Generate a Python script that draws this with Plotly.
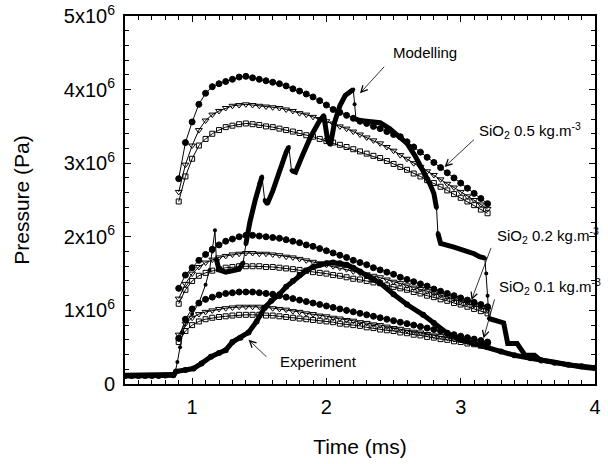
import plotly.graph_objects as go

# ---------------- data (pressure in units of 1e6 Pa, time in ms) ----------------
t_sim = [0.90, 0.95, 1.00, 1.05, 1.10, 1.15, 1.20, 1.25, 1.30, 1.35, 1.40, 1.45,
         1.50, 1.55, 1.60, 1.65, 1.70, 1.75, 1.80, 1.85, 1.90, 1.95, 2.00, 2.05,
         2.10, 2.15, 2.20, 2.25, 2.30, 2.35, 2.40, 2.45, 2.50, 2.55, 2.60, 2.65,
         2.70, 2.75, 2.80, 2.85, 2.90, 2.95, 3.00, 3.05, 3.10, 3.15, 3.20]

sio2_05_circ = [2.79, 3.28, 3.56, 3.80, 3.95, 4.04, 4.08, 4.11, 4.14, 4.17, 4.18, 4.16,
                4.14, 4.12, 4.10, 4.08, 4.05, 4.01, 3.98, 3.94, 3.90, 3.85, 3.79, 3.73,
                3.69, 3.65, 3.61, 3.57, 3.54, 3.50, 3.47, 3.43, 3.39, 3.36, 3.29, 3.22,
                3.15, 3.08, 3.01, 2.94, 2.87, 2.80, 2.73, 2.66, 2.59, 2.52, 2.45]
sio2_05_tri = [2.61, 2.98, 3.24, 3.45, 3.58, 3.66, 3.71, 3.75, 3.78, 3.79, 3.80, 3.79,
               3.78, 3.77, 3.76, 3.75, 3.73, 3.71, 3.68, 3.66, 3.63, 3.60, 3.57, 3.54,
               3.50, 3.47, 3.43, 3.39, 3.35, 3.31, 3.27, 3.22, 3.17, 3.11, 3.06, 3.00,
               2.95, 2.89, 2.84, 2.78, 2.72, 2.67, 2.61, 2.55, 2.50, 2.44, 2.38]
sio2_05_sq = [2.48, 2.82, 3.06, 3.24, 3.33, 3.40, 3.45, 3.49, 3.51, 3.53, 3.54, 3.53,
              3.52, 3.50, 3.49, 3.47, 3.45, 3.43, 3.41, 3.38, 3.36, 3.33, 3.30, 3.28,
              3.25, 3.22, 3.19, 3.16, 3.13, 3.10, 3.07, 3.03, 2.99, 2.95, 2.91, 2.86,
              2.82, 2.77, 2.73, 2.68, 2.63, 2.58, 2.53, 2.48, 2.43, 2.37, 2.32]

sio2_02_circ = [1.30, 1.48, 1.58, 1.68, 1.76, 1.83, 1.89, 1.94, 1.97, 2.00, 2.02, 2.02,
                2.01, 2.00, 1.99, 1.98, 1.96, 1.94, 1.92, 1.89, 1.87, 1.84, 1.81, 1.78,
                1.75, 1.72, 1.68, 1.65, 1.62, 1.58, 1.55, 1.52, 1.49, 1.45, 1.42, 1.39,
                1.36, 1.33, 1.29, 1.26, 1.23, 1.20, 1.17, 1.14, 1.11, 1.08, 1.05]
sio2_02_tri = [1.16, 1.36, 1.50, 1.59, 1.65, 1.69, 1.72, 1.74, 1.76, 1.77, 1.78, 1.78,
               1.77, 1.77, 1.76, 1.75, 1.73, 1.72, 1.70, 1.68, 1.66, 1.64, 1.62, 1.60,
               1.58, 1.56, 1.53, 1.51, 1.49, 1.47, 1.45, 1.42, 1.39, 1.37, 1.34, 1.31,
               1.29, 1.26, 1.23, 1.21, 1.18, 1.15, 1.12, 1.10, 1.07, 1.04, 1.01]
sio2_02_sq = [1.09, 1.28, 1.40, 1.47, 1.51, 1.54, 1.56, 1.58, 1.59, 1.60, 1.60, 1.60,
              1.60, 1.59, 1.59, 1.58, 1.57, 1.56, 1.55, 1.54, 1.52, 1.51, 1.50, 1.48,
              1.47, 1.45, 1.43, 1.42, 1.40, 1.38, 1.37, 1.34, 1.32, 1.30, 1.28, 1.25,
              1.23, 1.20, 1.18, 1.15, 1.13, 1.10, 1.08, 1.05, 1.02, 0.99, 0.96]

sio2_01_circ = [0.62, 0.88, 1.02, 1.10, 1.15, 1.18, 1.21, 1.23, 1.24, 1.25, 1.25, 1.25,
                1.24, 1.23, 1.22, 1.20, 1.18, 1.16, 1.14, 1.12, 1.10, 1.08, 1.06, 1.04,
                1.02, 1.00, 0.98, 0.96, 0.94, 0.92, 0.90, 0.88, 0.86, 0.84, 0.82, 0.80,
                0.78, 0.76, 0.74, 0.72, 0.69, 0.67, 0.65, 0.63, 0.61, 0.59, 0.57]
sio2_01_tri = [0.67, 0.82, 0.90, 0.95, 0.98, 1.00, 1.02, 1.03, 1.04, 1.05, 1.05, 1.05,
               1.05, 1.04, 1.03, 1.02, 1.01, 0.99, 0.98, 0.96, 0.95, 0.93, 0.92, 0.90,
               0.89, 0.87, 0.86, 0.84, 0.83, 0.81, 0.80, 0.78, 0.76, 0.75, 0.73, 0.71,
               0.70, 0.68, 0.66, 0.65, 0.63, 0.61, 0.60, 0.58, 0.57, 0.55, 0.54]
sio2_01_sq = [0.57, 0.72, 0.80, 0.85, 0.88, 0.90, 0.91, 0.92, 0.93, 0.94, 0.94, 0.94,
              0.94, 0.93, 0.93, 0.92, 0.91, 0.90, 0.89, 0.88, 0.87, 0.86, 0.85, 0.84,
              0.82, 0.81, 0.80, 0.79, 0.77, 0.76, 0.74, 0.73, 0.72, 0.70, 0.69, 0.67,
              0.66, 0.64, 0.63, 0.61, 0.60, 0.58, 0.57, 0.55, 0.54, 0.52, 0.51]

t_exp = [0.50, 0.55, 0.60, 0.65, 0.70, 0.75, 0.80, 0.86, 0.88, 0.95, 1.01, 1.07, 1.14,
         1.20, 1.25, 1.30, 1.36, 1.42, 1.48, 1.54, 1.59, 1.65, 1.70, 1.75, 1.80, 1.85,
         1.90, 1.95, 2.00, 2.05, 2.10, 2.15, 2.20, 2.25, 2.30, 2.35, 2.40, 2.50, 2.60,
         2.72, 2.80, 2.90, 3.00, 3.10, 3.19, 3.30, 3.40, 3.52, 3.60, 3.70, 3.80, 3.90, 4.00]
p_exp = [0.11, 0.11, 0.11, 0.11, 0.11, 0.11, 0.115, 0.12, 0.17, 0.19, 0.21, 0.28, 0.37,
         0.42, 0.46, 0.57, 0.63, 0.70, 0.85, 1.04, 1.13, 1.22, 1.32, 1.40, 1.48, 1.54,
         1.59, 1.62, 1.64, 1.65, 1.64, 1.62, 1.58, 1.53, 1.47, 1.42, 1.37, 1.22, 1.08,
         0.94, 0.83, 0.69, 0.60, 0.55, 0.51, 0.44, 0.39, 0.35, 0.32, 0.29, 0.26, 0.24, 0.22]

t_mod = [0.50, 0.60, 0.70, 0.80, 0.87, 0.89, 0.91, 0.93, 0.96, 1.00, 1.05, 1.10, 1.13,
         1.15, 1.17, 1.18, 1.20, 1.25, 1.30, 1.35, 1.38, 1.40, 1.43, 1.47, 1.50, 1.52,
         1.54, 1.56, 1.60, 1.65, 1.70, 1.72, 1.74, 1.77, 1.82, 1.88, 1.94, 1.98, 2.01,
         2.03, 2.06, 2.10, 2.14, 2.18, 2.20, 2.21, 2.22, 2.25, 2.30, 2.35, 2.40, 2.47,
         2.53, 2.60, 2.66, 2.72, 2.77, 2.80, 2.82, 2.83, 2.85, 2.95, 3.02, 3.10, 3.14,
         3.18, 3.19, 3.20, 3.21, 3.25, 3.32, 3.35, 3.42, 3.48, 3.55, 3.59, 3.70, 3.80,
         3.90, 4.00]
p_mod = [0.12, 0.12, 0.12, 0.12, 0.13, 0.30, 0.50, 0.70, 0.85, 0.95, 1.10, 1.35, 1.55,
         1.80, 2.09, 1.70, 1.55, 1.52, 1.54, 1.56, 1.65, 1.90, 2.20, 2.50, 2.72, 2.82,
         2.50, 2.45, 2.62, 2.90, 3.15, 3.22, 2.90, 2.88, 3.10, 3.35, 3.55, 3.65, 3.30,
         3.25, 3.55, 3.78, 3.92, 3.98, 4.00, 3.80, 3.60, 3.58, 3.57, 3.56, 3.55, 3.47,
         3.38, 3.27, 3.10, 2.91, 2.72, 2.59, 2.39, 2.05, 1.91, 1.86, 1.82, 1.77, 1.73,
         1.71, 1.50, 1.20, 0.89, 0.87, 0.83, 0.55, 0.55, 0.39, 0.39, 0.33, 0.29, 0.26,
         0.23, 0.21]
mod_fast_start, mod_fast_end = 0.87, 1.17   # early fast-rise phase drawn as dotted thin line

x_ticks = [1, 2, 3, 4]
y_ticks = [0, 1, 2, 3, 4, 5]
y_ticktext = ["0", "1x10<sup>6</sup>", "2x10<sup>6</sup>", "3x10<sup>6</sup>",
              "4x10<sup>6</sup>", "5x10<sup>6</sup>"]

SCALE = 1e6
FONT = "Liberation Sans, Arial, sans-serif"

fig = go.Figure()


def pa(vals):
    return [None if v is None else v * SCALE for v in vals]


sim_series = [
    (sio2_05_circ, "circle"), (sio2_05_tri, "triangle-down-open"), (sio2_05_sq, "square-open"),
    (sio2_02_circ, "circle"), (sio2_02_tri, "triangle-down-open"), (sio2_02_sq, "square-open"),
    (sio2_01_circ, "circle"), (sio2_01_tri, "triangle-down-open"), (sio2_01_sq, "square-open"),
]
for vals, sym in sim_series:
    fig.add_trace(go.Scatter(
        x=t_sim, y=pa(vals), mode="lines+markers",
        line=dict(color="black", width=1),
        marker=dict(symbol=sym, size=6 if sym != "square-open" else 5, color="black",
                    line=dict(color="black", width=1)),
        showlegend=False, hoverinfo="skip"))

# Experiment: thick line with dots
fig.add_trace(go.Scatter(
    x=t_exp, y=pa(p_exp), mode="lines+markers",
    line=dict(color="black", width=5),
    marker=dict(symbol="circle", size=6, color="black"),
    showlegend=False, hoverinfo="skip"))

# Modelling: thin dotted connection everywhere, thick where not a sudden jump
fig.add_trace(go.Scatter(
    x=t_mod, y=pa(p_mod), mode="lines+markers",
    line=dict(color="black", width=1),
    marker=dict(symbol="circle", size=4, color="black"),
    showlegend=False, hoverinfo="skip"))
thick_x, thick_y = [], []
for i in range(len(t_mod)):
    thick_x.append(t_mod[i])
    thick_y.append(p_mod[i])
    if i < len(t_mod) - 1:
        slope = abs(p_mod[i + 1] - p_mod[i]) / (t_mod[i + 1] - t_mod[i])
        early = t_mod[i] >= mod_fast_start and t_mod[i + 1] <= mod_fast_end
        if slope > 12 or early:
            thick_x.append(None)
            thick_y.append(None)
fig.add_trace(go.Scatter(
    x=thick_x, y=pa(thick_y), mode="lines",
    line=dict(color="black", width=5),
    connectgaps=False, showlegend=False, hoverinfo="skip"))

# ---------------- annotations ----------------
ann_font = dict(family=FONT, size=15, color="black")
arrows = [
    # (tail_t, tail_p, tip_t, tip_p)
    (2.44, 4.33, 2.25, 3.95),
    (3.11, 3.34, 2.88, 2.95),
    (3.23, 1.87, 3.08, 1.14),
    (3.255, 1.17, 3.17, 0.62),
    (1.565, 0.35, 1.42, 0.60),
]
for tt, tp, ht, hp in arrows:
    fig.add_annotation(x=ht, y=hp * SCALE, ax=tt, ay=tp * SCALE,
                       xref="x", yref="y", axref="x", ayref="y",
                       text="", showarrow=True, arrowhead=5, arrowsize=1.6,
                       arrowwidth=0.8, arrowcolor="black")

labels = [
    (2.48, 4.51, "Modelling"),
    (3.12, 3.45, "SiO<sub>2</sub> 0.5 kg.m<sup>-3</sup>"),
    (3.255, 2.02, "SiO<sub>2</sub> 0.2 kg.m<sup>-3</sup>"),
    (3.27, 1.32, "SiO<sub>2</sub> 0.1 kg.m<sup>-3</sup>"),
    (1.636, 0.31, "Experiment"),
]
for lt, lp, txt in labels:
    fig.add_annotation(x=lt, y=lp * SCALE, xref="x", yref="y", text=txt,
                       showarrow=False, xanchor="left", yanchor="middle",
                       font=ann_font)

axis_common = dict(
    showline=True, linecolor="black", linewidth=2, mirror="ticks",
    ticks="inside", tickcolor="black", tickwidth=1, ticklen=6,
    showgrid=False, zeroline=False,
    tickfont=dict(family=FONT, size=20, color="black"),
)

fig.update_xaxes(
    range=[0.5, 4], tickvals=x_ticks, ticktext=[str(v) for v in x_ticks],
    minor=dict(dtick=0.1, tick0=0, ticks="inside", ticklen=4, tickcolor="black", tickwidth=1),
    ticklabelstandoff=4,
    title=dict(text="Time (ms)", font=dict(family=FONT, size=21, color="black"), standoff=22),
    **axis_common)
fig.update_yaxes(
    range=[0, 5 * SCALE], tickvals=[v * SCALE for v in y_ticks], ticktext=y_ticktext,
    minor=dict(dtick=0.2 * SCALE, tick0=0, ticks="inside", ticklen=4, tickcolor="black", tickwidth=1),
    ticklabelstandoff=4,
    title=dict(text="Pressure (Pa)", font=dict(family=FONT, size=21, color="black"), standoff=28),
    **axis_common)

fig.update_layout(
    width=608, height=464,
    margin=dict(l=125, r=13, t=16, b=80, autoexpand=False),
    paper_bgcolor="white", plot_bgcolor="white",
    showlegend=False,
    font=dict(family=FONT, color="black"),
)

fig.write_html("out.html")
